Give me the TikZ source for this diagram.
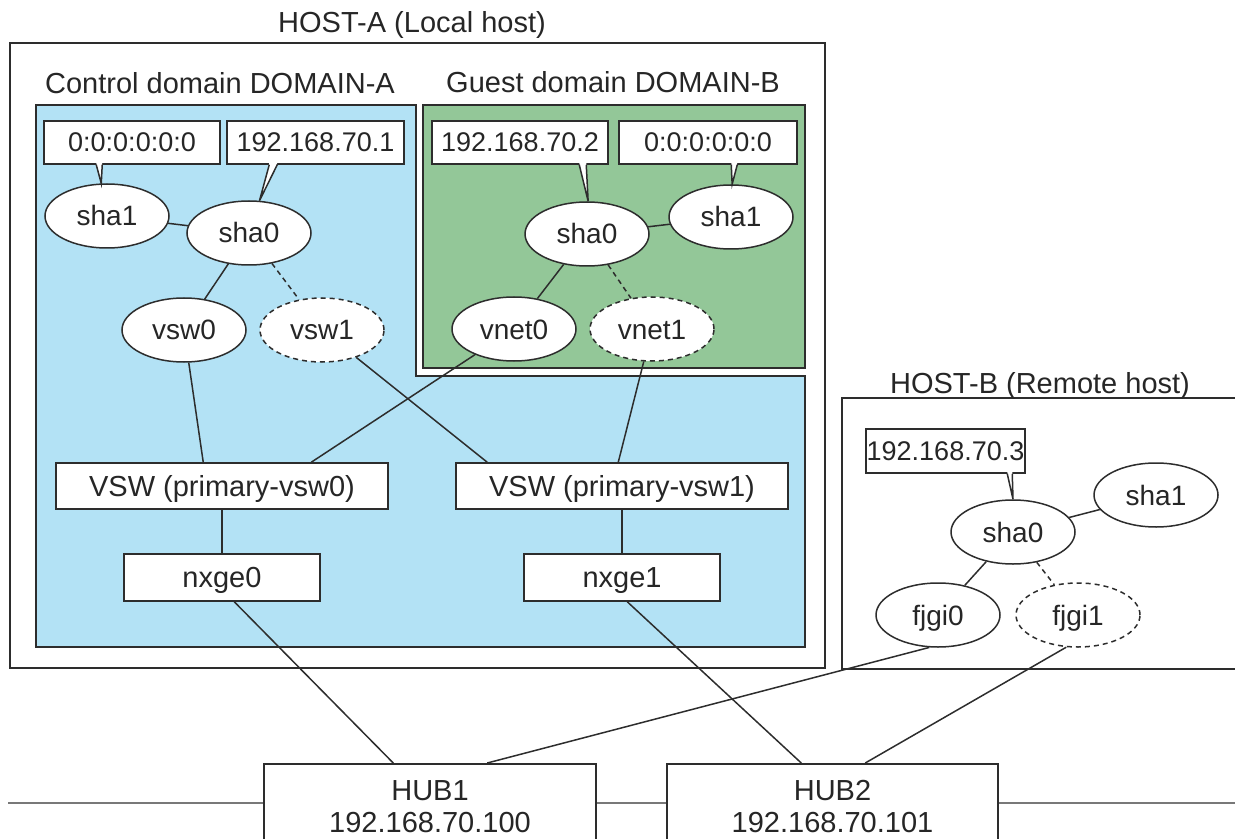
\documentclass[tikz,border=0pt]{standalone}
\usepackage{fontspec}
\setmainfont{Liberation Sans}
\usetikzlibrary{calc,shapes.geometric}
\definecolor{domblue}{RGB}{179,226,245}
\definecolor{domgreen}{RGB}{147,199,152}
\definecolor{ln}{RGB}{45,45,45}
\definecolor{netgray}{RGB}{120,120,120}
\newcommand\calloutptr[4]{%
  \fill[white] ($(#1.south west)+(#2,-1.6)$) -- (#4) -- ($(#1.south west)+(#3,-1.6)$) -- cycle;
  \draw[conn] ($(#1.south west)+(#2,0)$) -- (#4) -- ($(#1.south west)+(#3,0)$);
}
\begin{document}
\begin{tikzpicture}[x=0.5pt,y=-0.5pt,
  every node/.style={font=\fontsize{14.5}{17}\selectfont, text height=10pt, text depth=0pt, inner sep=0pt, text=black!85},
  frame/.style={draw=ln, line width=0.8pt},
  ellnode/.style={ellipse, draw=ln, fill=white, line width=0.75pt, minimum width=62pt, minimum height=32pt, font=\fontsize{14}{17}\selectfont},
  dashell/.style={ellnode, dash pattern=on 2.5pt off 2pt},
  boxnode/.style={rectangle, draw=ln, fill=white, line width=0.75pt},
  ipbox/.style={boxnode, minimum height=21.5pt, font=\fontsize{13.5}{16}\selectfont, text height=9.4pt},
  conn/.style={draw=ln, line width=0.75pt},
  dconn/.style={conn, dash pattern=on 2.5pt off 2pt},
  netline/.style={draw=netgray, line width=1.3pt}
]
\useasboundingbox (0,0) rectangle (1235,839);
\clip (0,0) rectangle (1235,839);

% ---------------- HOST-A ----------------
\draw[frame] (10,43) rectangle (825,668);
\node (titleA) at (412,22.5) {HOST-A (Local host)};
\draw[frame, fill=domblue] (36,105) -- (416,105) -- (416,376) -- (805,376) -- (805,647) -- (36,647) -- cycle;
\draw[frame, fill=domgreen] (423,105) rectangle (805,368);
\node (titleC) at (220,84) {Control domain DOMAIN-A};
\node (titleG) at (613,83) {Guest domain DOMAIN-B};

% ---------------- HOST-B ----------------
\draw[frame] (1240,398) -- (842,398) -- (842,669) -- (1240,669);
\node (titleB) at (1040,383) {HOST-B (Remote host)};

% ---------------- network ----------------
\coordinate (netL) at (8,803);
\coordinate (netR) at (1240,803);
\draw[netline] (netL) -- (netR);
\node[boxnode, minimum width=166pt, minimum height=50pt, anchor=north] (hub1) at (430,763) {};
\node[boxnode, minimum width=165.5pt, minimum height=50pt, anchor=north] (hub2) at (832.5,763) {};
\node (hub1name) at (430,790) {HUB1};
\node (hub1ip) at (430,822.5) {192.168.70.100};
\node (hub2name) at (832.5,790) {HUB2};
\node (hub2ip) at (832.5,822.5) {192.168.70.101};

% ---------------- Control domain nodes ----------------
\node[ipbox, minimum width=88pt] (ipC0) at (132,142.5) {0:0:0:0:0:0};
\node[ipbox, minimum width=88.5pt] (ipC1) at (315.5,142.5) {192.168.70.1};
\node[ellnode] (csha1) at (107,216) {sha1};
\node[ellnode] (csha0) at (249,233) {sha0};
\node[ellnode] (cvsw0) at (184,330) {vsw0};
\node[dashell] (cvsw1) at (322,330) {vsw1};
\node[boxnode, minimum width=166pt, minimum height=23pt] (vswbox0) at (222,486) {VSW (primary-vsw0)};
\node[boxnode, minimum width=166pt, minimum height=23pt] (vswbox1) at (622,486) {VSW (primary-vsw1)};
\node[boxnode, minimum width=98pt, minimum height=23.5pt] (nxge0) at (222,577.5) {nxge0};
\node[boxnode, minimum width=98pt, minimum height=23.5pt] (nxge1) at (622,577.5) {nxge1};

% ---------------- Guest domain nodes ----------------
\node[ipbox, minimum width=88pt] (ipG0) at (520,142.5) {192.168.70.2};
\node[ipbox, minimum width=89pt] (ipG1) at (708,142.5) {0:0:0:0:0:0};
\node[ellnode] (gsha0) at (587,234) {sha0};
\node[ellnode] (gsha1) at (731,217) {sha1};
\node[ellnode] (gvnet0) at (514,329) {vnet0};
\node[dashell] (gvnet1) at (652,329) {vnet1};

% ---------------- HOST-B nodes ----------------
\node[ipbox, minimum width=79.5pt, minimum height=22pt] (ipB) at (945.5,451) {192.168.70.3};
\node[ellnode] (bsha0) at (1013,532) {sha0};
\node[ellnode] (bsha1) at (1156,495) {sha1};
\node[ellnode] (bfjgi0) at (938,615) {fjgi0};
\node[dashell] (bfjgi1) at (1078,615) {fjgi1};

% ---------------- callout pointers ----------------
\calloutptr{ipC0}{53}{59}{csha1.100}
\calloutptr{ipC1}{43}{51}{csha0.72}
\calloutptr{ipG0}{148}{155}{gsha0.88}
\calloutptr{ipG1}{113}{119}{gsha1.88}
\calloutptr{ipB}{142}{147}{bsha0.90}

% ---------------- connectors ----------------
\draw[conn] (csha1) -- (csha0);
\draw[conn] (csha0) -- (cvsw0);
\draw[dconn] (csha0) -- (cvsw1);
\draw[conn] (gsha0) -- (gsha1);
\draw[conn] (gsha0) -- (gvnet0);
\draw[dconn] (gsha0) -- (gvnet1);
\draw[conn] (bsha0) -- (bsha1);
\draw[conn] (bsha0) -- (bfjgi0);
\draw[dconn] (bsha0) -- (bfjgi1);

\draw[conn] (cvsw0) -- ($(vswbox0.north west)+(148,0)$);
\draw[conn] (gvnet0) -- ($(vswbox0.north west)+(256,0)$);
\draw[conn] (cvsw1) -- ($(vswbox1.north west)+(32,0)$);
\draw[conn] (gvnet1) -- ($(vswbox1.north west)+(163,0)$);
\draw[conn] (vswbox0) -- (nxge0);
\draw[conn] (vswbox1) -- (nxge1);

\draw[conn] ($(nxge0.south west)+(111,0)$) -- ($(hub1.north west)+(130,0)$);
\draw[conn] ($(nxge1.south west)+(104,0)$) -- ($(hub2.north west)+(135,0)$);
\draw[conn] (bfjgi0.255) -- ($(hub1.north west)+(224,0)$);
\draw[conn] (bfjgi1.250) -- ($(hub2.north west)+(199,0)$);
\end{tikzpicture}
\end{document}
